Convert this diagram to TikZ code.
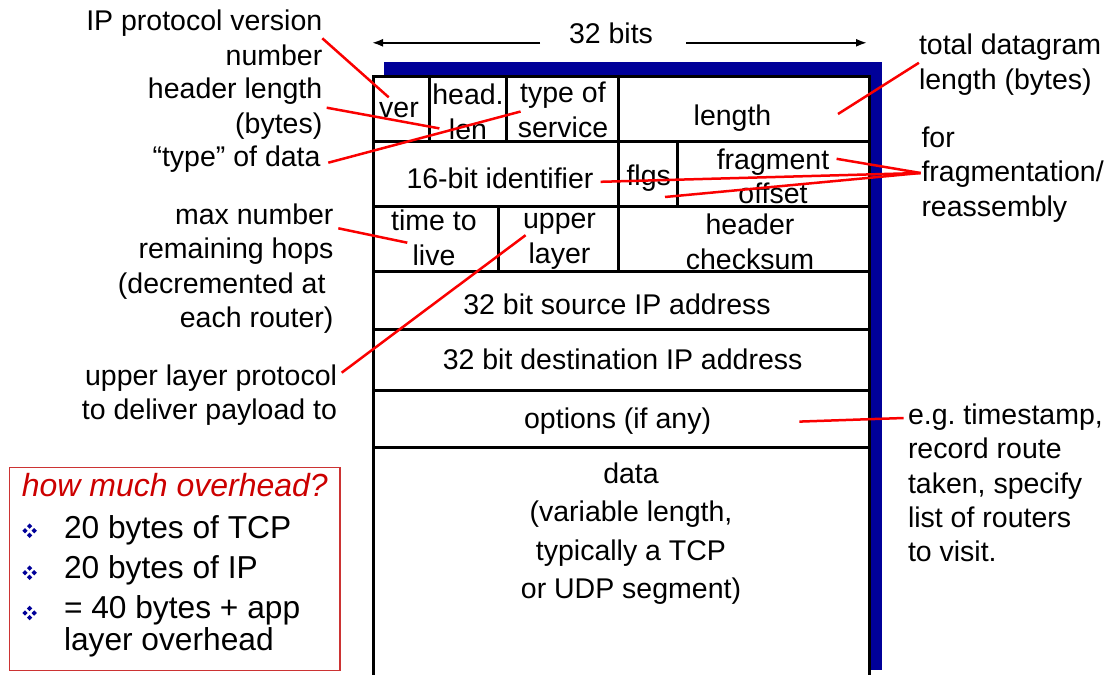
\documentclass[tikz,border=0pt]{standalone}
\usepackage{fontspec}
\setmainfont{Liberation Sans}
\frenchspacing
\usetikzlibrary{arrows.meta}
\definecolor{navy}{RGB}{0,0,153}
\definecolor{boxred}{RGB}{204,51,51}
\definecolor{headred}{RGB}{204,0,0}
\definecolor{calloutred}{RGB}{250,0,0}
\begin{document}
\begin{tikzpicture}[x=1pt,y=-1pt,
  every node/.style={inner sep=0pt, outer sep=0pt},
  field/.style={anchor=base, align=center, font=\fontsize{28.5}{34.8}\selectfont},
  note/.style={font=\fontsize{28.5}{34.3}\selectfont},
  noteL/.style={note, anchor=base east, align=right},
  noteR/.style={note, anchor=base west, align=left},
  hdrline/.style={line width=3pt, black},
  redline/.style={draw=calloutred, line width=2.5pt},
  widtharrow/.style={line width=1.8pt, -{Latex[length=11pt,width=8pt]}},
  item/.style={anchor=base west, align=left, font=\fontsize{31.7}{32}\selectfont},
  diamonds4/.pic={
    \foreach \dx/\dy in {0/-4.6,0/4.6,-4.6/0,4.6/0}
      \fill[navy] (\dx,\dy-2.7) -- (\dx+2.7,\dy) -- (\dx,\dy+2.7) -- (\dx-2.7,\dy) -- cycle;
  }
]
\useasboundingbox (0,0) rectangle (1109,675);

% ---- datagram header: shadow, white body, grid ----
\fill[navy] (384.3,61.7) rectangle (882,670);
\fill[white] (373.5,76) rectangle (869,675);
\draw[hdrline] (373.5,675) -- (373.5,76) -- (869,76) -- (869,675);
\foreach \yy in {141,206.5,271,329.5,390,447.6}
  \draw[hdrline] (373.5,\yy) -- (869,\yy);
\draw[hdrline] (429.3,76) -- (429.3,141);
\draw[hdrline] (506,76) -- (506,141);
\draw[hdrline] (618.6,76) -- (618.6,271);
\draw[hdrline] (677,141) -- (677,206.5);
\draw[hdrline] (498.6,206.5) -- (498.6,271);

% ---- field names (multi-line nodes sit on their last baseline) ----
\node[field] (ver) at (399,117.6) {ver};
\node[field] (hlen) at (468,139.6) {head.\\len};
\node[field] (tos) at (563,137.2) {type of\\service};
\node[field] (totlen) at (732.5,125) {length};
\node[field] (ident) at (500,188.6) {16-bit identifier};
\node[field] (flgs) at (648.7,185) {flgs};
\node[field] (fragoff) at (773,203.8) {fragment\\offset};
\node[field] (ttl) at (434,265) {time to\\live};
\node[field] (proto) at (559.5,263) {upper\\layer};
\node[field] (csum) at (750,269) {header\\checksum};
\node[field] (src) at (617,314.8) {32 bit source IP address};
\node[field] (dst) at (622.6,369.9) {32 bit destination IP address};
\node[field] (opts) at (617.6,428) {options (if any)};
\node[field, font=\fontsize{28.5}{38.3}\selectfont] (data) at (631,598.3)
  {data\\(variable length,\\typically a TCP\\or UDP segment)};

% ---- word width ----
\node[note, anchor=base] (width) at (611,43.8) {32 bits};
\coordinate (wl0) at (540,42.8);
\coordinate (wl) at (372,42.8);
\coordinate (wr0) at (686,42.8);
\coordinate (wr) at (867,42.8);
\draw[widtharrow] (wl0) -- (wl);
\draw[widtharrow] (wr0) -- (wr);

% ---- annotations, left ----
\node[noteL] (lblver) at (322.3,65) {IP protocol version\\number};
\node[noteL] (lblhlen) at (322.3,133) {header length\\(bytes)};
\node[noteL] (lbltos) at (320.5,166.7) {“type” of data};
\node[noteL] (lblttl) at (333.5,327.5) {max number\\remaining hops\\(decremented at\kern8pt\\each router)};
\node[noteL] (lblproto) at (337,419.3) {upper layer protocol\\to deliver payload to};

% ---- annotations, right ----
\node[noteR] (lbltot) at (919,89) {total datagram\\length (bytes)};
\node[noteR] (lblfrag) at (921.5,216) {for\\fragmentation/\\reassembly};
\node[noteR] (lblopts) at (908,561.8) {e.g. timestamp,\\record route\\taken, specify\\list of routers\\to visit.};

% ---- callout lines ----
\coordinate (verA) at (322.3,38.3);   \coordinate (verB) at (388.7,97.3);
\coordinate (hlenA) at (326.7,107.7); \coordinate (hlenB) at (439.4,128.4);
\coordinate (tosA) at (328.3,162.7);  \coordinate (tosB) at (520.6,111.5);
\coordinate (totA) at (918.9,62.8);   \coordinate (totB) at (838,114);
\coordinate (fragA) at (920.6,173);
\coordinate (fragB) at (836.6,158.8);
\coordinate (identB) at (600.7,181.8);
\coordinate (offB) at (665,197);
\coordinate (ttlA) at (338.3,228.3);  \coordinate (ttlB) at (407.3,242.7);
\coordinate (protoA) at (341.7,372.7); \coordinate (protoB) at (525.6,235.2);
\coordinate (optsA) at (799.4,421.6); \coordinate (optsB) at (903.6,418);
\draw[redline] (verA) -- (verB);
\draw[redline] (hlenA) -- (hlenB);
\draw[redline] (tosA) -- (tosB);
\draw[redline] (totA) -- (totB);
\draw[redline] (fragA) -- (fragB);
\draw[redline] (fragA) -- (identB);
\draw[redline] (fragA) -- (offB);
\draw[redline] (ttlA) -- (ttlB);
\draw[redline] (protoA) -- (protoB);
\draw[redline] (optsA) -- (optsB);

% ---- overhead box ----
\draw[boxred, line width=1.5pt] (9.4,467.4) rectangle (340,670.5);
\node[anchor=base west, font=\fontsize{32}{38}\selectfont\itshape, text=headred]
  (ohq) at (21.9,496.3) {how much overhead?};
\pic at (29.6,530.7) {diamonds4};
\pic at (29.6,572.7) {diamonds4};
\pic at (29.6,613) {diamonds4};
\node[item] (tcp) at (64,538) {20 bytes of TCP};
\node[item] (ip) at (64,578.4) {20 bytes of IP};
\node[item] (tot) at (64,650) {= 40 bytes + app\\layer overhead};
\end{tikzpicture}
\end{document}
